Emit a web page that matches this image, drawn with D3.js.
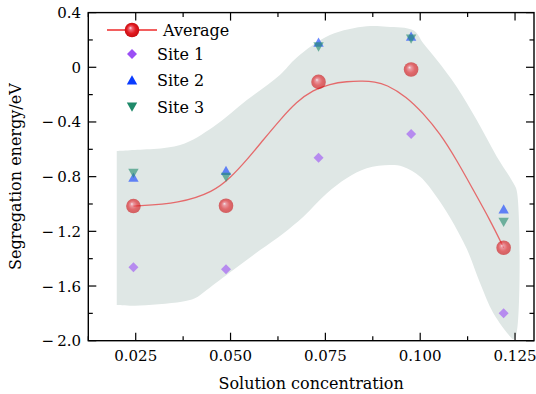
<!DOCTYPE html>
<html>
<head>
<meta charset="utf-8">
<script src="https://cdn.jsdelivr.net/npm/d3@7"></script>
<style>
  body { margin: 0; background: #fff; }
</style>
</head>
<body>
<script>
// data
const concentration = [0.0244, 0.0488, 0.0732, 0.0976, 0.1220];
const average = [-1.015, -1.013, -0.107, -0.016, -1.320];
const site1 = [-1.463, -1.478, -0.661, -0.488, -1.800];
const site2 = [-0.803, -0.754, 0.185, 0.229, -1.035];
const site3 = [-0.777, -0.806, 0.148, 0.205, -1.135];

// fitted curve through the averages
const fitX = [0.0244, 0.0367, 0.0455, 0.0499, 0.0543, 0.0586, 0.0630, 0.0674, 0.0718, 0.0762,
  0.0806, 0.0850, 0.0880, 0.0910, 0.0964, 0.1008, 0.1052, 0.1096, 0.1140, 0.1184, 0.1220];
const fitY = [-1.015, -0.995, -0.91, -0.81, -0.678, -0.532, -0.386, -0.252, -0.166, -0.122,
  -0.103, -0.100, -0.106, -0.125, -0.215, -0.337, -0.483, -0.678, -0.898, -1.117, -1.320];

// shaded band outline (upper edge left->right, then lower edge right->left)
const bandX = [0.0200, 0.0235, 0.0367, 0.0455, 0.0543, 0.0630, 0.0674, 0.0762, 0.0859, 0.0912,
  0.0982, 0.1008, 0.1044, 0.1096, 0.1149, 0.1202, 0.1246, 0.1255, 0.1255, 0.1246,
  0.1237, 0.1193, 0.1158, 0.1123, 0.1079, 0.1044, 0.1000, 0.0955, 0.0920, 0.0859,
  0.0806, 0.0754, 0.0692, 0.0639, 0.0578, 0.0507, 0.0437, 0.0406, 0.0371, 0.0248, 0.0200];
const bandY = [-0.612, -0.607, -0.569, -0.435, -0.24, -0.056, 0.07, 0.236, 0.30, 0.297,
  0.27, 0.175, 0.053, -0.142, -0.386, -0.654, -0.849, -0.91, -1.93, -1.99,
  -1.97, -1.80, -1.58, -1.33, -1.10, -0.95, -0.80, -0.727, -0.715, -0.739,
  -0.812, -0.922, -1.093, -1.215, -1.337, -1.483, -1.629, -1.69, -1.715, -1.744, -1.739];

const xTicks = [0.025, 0.050, 0.075, 0.100, 0.125];
const yTicks = [0.4, 0, -0.4, -0.8, -1.2, -1.6, -2.0];

const width = 536, height = 394;
const margin = { top: 12.6, right: 2, bottom: 53.3, left: 88.3 };
const font = "DejaVu Serif";

const svg = d3.select("body").append("svg")
  .attr("width", width)
  .attr("height", height)
  .attr("font-family", font)
  .style("font-family", font);

const defs = svg.append("defs");
const grad = defs.append("radialGradient")
  .attr("id", "ball")
  .attr("cx", "0.5").attr("cy", "0.5").attr("r", "0.5")
  .attr("fx", "0.38").attr("fy", "0.35");
grad.append("stop").attr("offset", "0%").attr("stop-color", "#ffe8f0");
grad.append("stop").attr("offset", "22%").attr("stop-color", "#f06a78");
grad.append("stop").attr("offset", "60%").attr("stop-color", "#e21c22");
grad.append("stop").attr("offset", "100%").attr("stop-color", "#c80c10");

const x = d3.scaleLinear().domain([0.0125, 0.130]).range([margin.left, width - margin.right]);
const y = d3.scaleLinear().domain([-2.0, 0.4]).range([height - margin.bottom, margin.top]);

const fmtY = (d) => (d < 0 ? "\u2212\u2009" : "") + (d === 0 ? "0" : d3.format(".1f")(Math.abs(d)));

// band
svg.append("path")
  .datum(bandX.map((d, i) => [d, bandY[i]]))
  .attr("fill", "#dfe7e5")
  .attr("d", d3.line().x((d) => x(d[0])).y((d) => y(d[1])).curve(d3.curveCatmullRom.alpha(0.5)));

// fit line
svg.append("path")
  .datum(fitX.map((d, i) => [d, fitY[i]]))
  .attr("fill", "none")
  .attr("stroke", "#e8262a")
  .attr("stroke-opacity", 0.65)
  .attr("stroke-width", 1.3)
  .attr("d", d3.line().x((d) => x(d[0])).y((d) => y(d[1])).curve(d3.curveBasis));

const diamond = d3.symbol().type(d3.symbolSquare).size(50)();
const triUp = "M0,-5.3L5.2,4L-5.2,4Z";
const triDown = "M0,5.3L5.2,-4L-5.2,-4Z";

function markers(values, path, color, dy, rot) {
  svg.append("g").selectAll("path")
    .data(values)
    .join("path")
    .attr("d", path)
    .attr("fill", color)
    .attr("fill-opacity", 0.6)
    .attr("transform", (d, i) => `translate(${x(concentration[i])},${y(d) + dy})` + (rot ? ` rotate(${rot})` : ""));
}

markers(site1, diamond, "#9b4ff5", 0, 45);
markers(site2, triUp, "#0a3cff", 0.7, 0);
markers(site3, triDown, "#1f8a6a", -0.7, 0);

svg.append("g").selectAll("circle")
  .data(average)
  .join("circle")
  .attr("cx", (d, i) => x(concentration[i]))
  .attr("cy", (d) => y(d))
  .attr("r", 7.3)
  .attr("fill", "url(#ball)")
  .attr("opacity", 0.62);

// axes, ticks pointing in
const x0 = margin.left, x1 = width - margin.right;
const y0 = height - margin.bottom, y1 = margin.top;
const xMinor = d3.range(0.0125, 0.1301, 0.0125);
const yMinor = d3.range(-2.0, 0.401, 0.2);

const axes = svg.append("g").attr("stroke", "#000").attr("stroke-width", 1.2);
xMinor.forEach((v) => {
  const big = xTicks.some((t) => Math.abs(t - v) < 1e-6);
  const L = big ? 8 : 4.5;
  axes.append("line").attr("x1", x(v)).attr("x2", x(v)).attr("y1", y0).attr("y2", y0 - L);
  axes.append("line").attr("x1", x(v)).attr("x2", x(v)).attr("y1", y1).attr("y2", y1 + L);
});
yMinor.forEach((v) => {
  const big = yTicks.some((t) => Math.abs(t - v) < 1e-6);
  const L = big ? 8 : 4.5;
  axes.append("line").attr("y1", y(v)).attr("y2", y(v)).attr("x1", x0).attr("x2", x0 + L);
  axes.append("line").attr("y1", y(v)).attr("y2", y(v)).attr("x1", x1).attr("x2", x1 - L);
});
svg.append("rect")
  .attr("x", x0).attr("y", y1)
  .attr("width", x1 - x0).attr("height", y0 - y1)
  .attr("fill", "none").attr("stroke", "#000").attr("stroke-width", 1.4);

const fs = "16px";
const tickFs = "15px";

svg.append("g").selectAll("text")
  .data(xTicks)
  .join("text")
  .attr("x", (d) => x(d))
  .attr("y", 361)
  .attr("text-anchor", "middle")
  .attr("font-size", tickFs)
  .text((d) => d3.format(".3f")(d));

svg.append("g").selectAll("text")
  .data(yTicks)
  .join("text")
  .attr("x", 81)
  .attr("y", (d) => y(d) + 5.5)
  .attr("text-anchor", "end")
  .attr("font-size", tickFs)
  .text(fmtY);

svg.append("text")
  .attr("x", (x0 + x1) / 2)
  .attr("y", 389)
  .attr("text-anchor", "middle")
  .attr("font-size", fs)
  .text("Solution concentration");

svg.append("text")
  .attr("transform", `translate(21,${(y0 + y1) / 2}) rotate(-90)`)
  .attr("text-anchor", "middle")
  .attr("font-size", fs)
  .text("Segregation energy/eV");

// legend
const leg = svg.append("g");
const legRows = [
  { label: "Average", ty: 30, tx: 163 },
  { label: "Site 1", ty: 54, tx: 157 },
  { label: "Site 2", ty: 80, tx: 157 },
  { label: "Site 3", ty: 107, tx: 157 }
];
leg.append("line").attr("x1", 107).attr("x2", 157).attr("y1", 30).attr("y2", 30)
  .attr("stroke", "#ee2a2a").attr("stroke-width", 1.3);
leg.append("circle").attr("cx", 132).attr("cy", 30).attr("r", 7.3).attr("fill", "url(#ball)");
leg.append("path").attr("d", diamond).attr("fill", "#9b4ff5").attr("transform", "translate(132,54) rotate(45)");
leg.append("path").attr("d", triUp).attr("fill", "#0a3cff").attr("transform", "translate(132,80.5)");
leg.append("path").attr("d", triDown).attr("fill", "#1f8a6a").attr("transform", "translate(132,106.5)");
leg.selectAll("text")
  .data(legRows)
  .join("text")
  .attr("x", (d) => d.tx)
  .attr("y", (d) => d.ty + 6)
  .attr("font-size", fs)
  .text((d) => d.label);
</script>
</body>
</html>
